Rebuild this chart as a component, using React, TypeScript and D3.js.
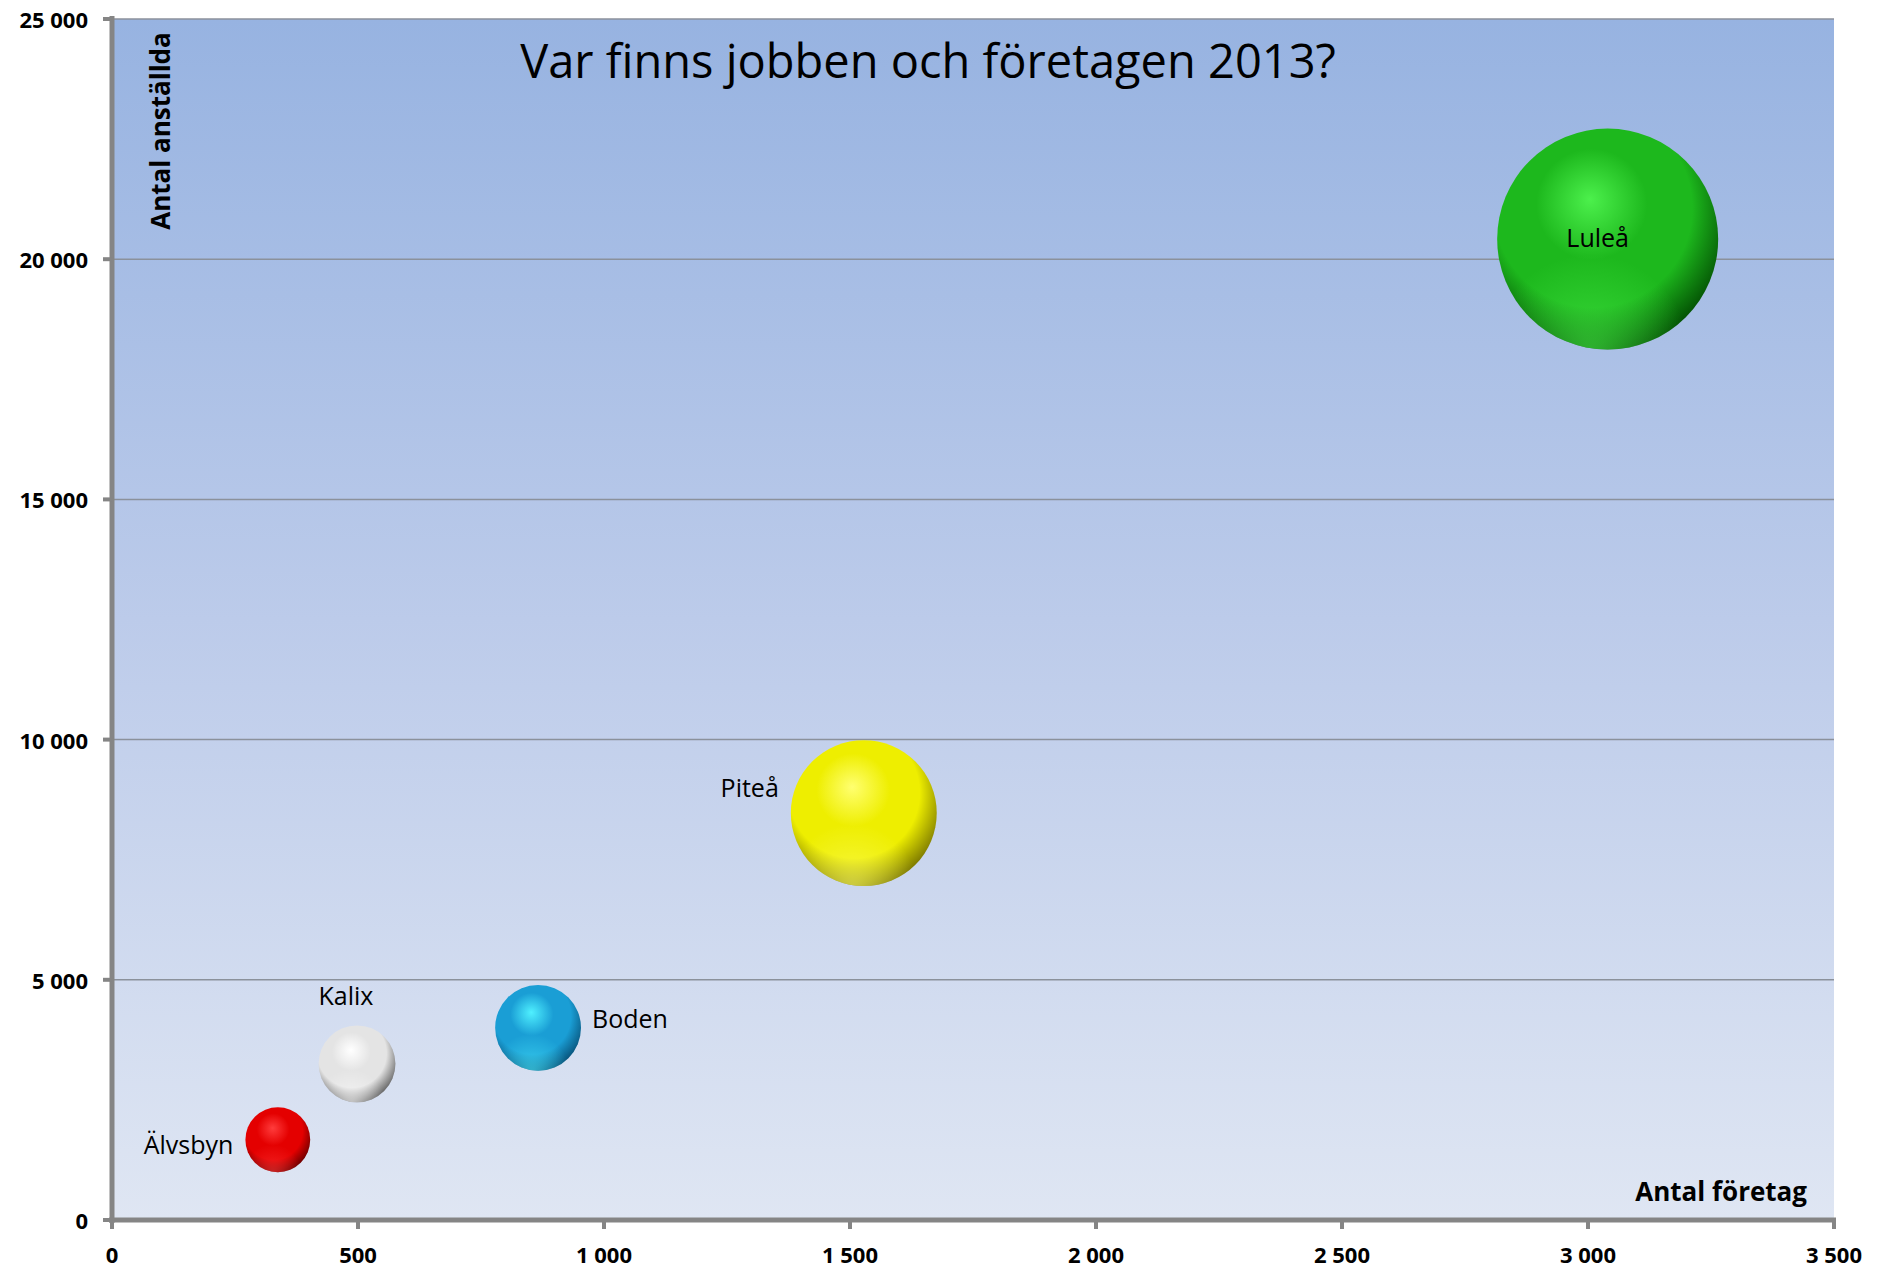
import * as d3 from "d3";

const kommuner = ["Luleå", "Piteå", "Boden", "Kalix", "Älvsbyn"];
const antalForetag = [3040, 1528, 866, 498, 337];
const antalAnstallda = [20420, 8470, 4000, 3250, 1670];
const bubbelStorlek = [100, 43.6, 15.1, 12.1, 8.6];
const xTicks = [0, 500, 1000, 1500, 2000, 2500, 3000, 3500];
const yTicks = [0, 5000, 10000, 15000, 20000, 25000];

// sphere colours: highlight, base, dark rim
const farger = [
  ["#4cf04c", "#1db81d", "#004400"],
  ["#ffff70", "#eeee00", "#6e6a00"],
  ["#4ff0ff", "#1a9ed5", "#064a70"],
  ["#ffffff", "#e4e4e4", "#555555"],
  ["#ff3c3c", "#e40000", "#5e0000"],
];
const etikettLage = ["center", "left", "right", "above", "left"];

const W = 1883;
const H = 1268;
const fmt = (v: number) => d3.format(",")(v).replace(/,/g, " ");

export default function App() {
  const x = d3.scaleLinear().domain([0, 3500]).range([112, 1834]);
  const y = d3.scaleLinear().domain([0, 25000]).range([1220, 19]);
  const r = d3.scaleSqrt().domain([0, 100]).range([0, 110.5]);
  const font = "'Open Sans', 'Noto Sans', sans-serif";

  return (
    <svg
      width={W}
      height={H}
      style={{ position: "absolute", left: 0, top: 0, background: "#fff" }}
      fontFamily={font}
    >
      <defs>
        <linearGradient id="bg" x1="0" y1="0" x2="0" y2="1">
          <stop offset="0%" stopColor="#97b3e1" />
          <stop offset="50%" stopColor="#bccbea" />
          <stop offset="100%" stopColor="#dfe6f3" />
        </linearGradient>
        {farger.map((c, i) => (
          <g key={i}>
            <radialGradient id={`sf${i}`} cx="0.44" cy="0.38" r="0.66" fx="0.42" fy="0.32">
              <stop offset="0%" stopColor={c[0]} />
              <stop offset="38%" stopColor={c[1]} />
              <stop offset="68%" stopColor={c[1]} />
              <stop offset="100%" stopColor={c[2]} />
            </radialGradient>
            <radialGradient id={`rf${i}`} cx="0.42" cy="1.02" r="0.45">
              <stop offset="0%" stopColor={c[0]} stopOpacity="0.6" />
              <stop offset="100%" stopColor={c[0]} stopOpacity="0" />
            </radialGradient>
          </g>
        ))}
      </defs>

      <rect
        x={x(0)}
        y={y(25000)}
        width={x(3500) - x(0)}
        height={y(0) - y(25000)}
        fill="url(#bg)"
      />

      {yTicks
        .filter((t) => t > 0)
        .map((t) => (
          <line key={t} x1={x(0)} x2={x(3500)} y1={y(t)} y2={y(t)} stroke="#8b919b" strokeWidth={1.5} />
        ))}

      <text x={928} y={60} textAnchor="middle" dominantBaseline="central" fontSize={47} fill="#000">
        Var finns jobben och företagen 2013?
      </text>

      <text
        transform={`translate(160,131) rotate(-90)`}
        textAnchor="middle"
        dominantBaseline="central"
        fontSize={26}
        fontWeight="bold"
        fill="#000"
      >
        Antal anställda
      </text>
      <text x={1807} y={1191} textAnchor="end" dominantBaseline="central" fontSize={26} fontWeight="bold" fill="#000">
        Antal företag
      </text>

      {kommuner.map((k, i) => {
        const cx = x(antalForetag[i]);
        const cy = y(antalAnstallda[i]);
        const rr = r(bubbelStorlek[i]);
        return (
          <g key={k}>
            <circle cx={cx} cy={cy} r={rr} fill={`url(#sf${i})`} />
            <circle cx={cx} cy={cy} r={rr} fill={`url(#rf${i})`} />
          </g>
        );
      })}

      {kommuner.map((k, i) => {
        const cx = x(antalForetag[i]);
        const cy = y(antalAnstallda[i]);
        const rr = r(bubbelStorlek[i]);
        const lage = etikettLage[i];
        let tx = cx;
        let ty = cy;
        let anchor = "middle";
        if (lage === "center") {
          tx = cx - 10;
          ty = cy - 2;
        } else if (lage === "left") {
          tx = cx - rr - 12;
          ty = k === "Piteå" ? cy - 26 : cy + 4;
          anchor = "end";
        } else if (lage === "right") {
          tx = cx + rr + 11;
          ty = cy - 10;
          anchor = "start";
        } else if (lage === "above") {
          tx = cx - 11;
          ty = cy - rr - 30;
        }
        return (
          <text key={k} x={tx} y={ty} textAnchor={anchor} dominantBaseline="central" fontSize={25} fill="#000">
            {k}
          </text>
        );
      })}

      {/* axes */}
      <line x1={x(0)} x2={x(0)} y1={y(25000) - 3} y2={y(0) + 3} stroke="#858585" strokeWidth={5} />
      <line x1={x(0) - 3} x2={x(3500) + 2} y1={y(0)} y2={y(0)} stroke="#858585" strokeWidth={5} />
      {yTicks.map((t) => (
        <g key={t}>
          <line x1={x(0) - 9} x2={x(0)} y1={y(t)} y2={y(t)} stroke="#858585" strokeWidth={4} />
          <text x={88} y={y(t)} textAnchor="end" dominantBaseline="central" fontSize={22} fontWeight="bold" fill="#000">
            {fmt(t)}
          </text>
        </g>
      ))}
      {xTicks.map((t) => (
        <g key={t}>
          <line x1={x(t)} x2={x(t)} y1={y(0)} y2={y(0) + 9} stroke="#858585" strokeWidth={4} />
          <text x={x(t)} y={1254} textAnchor="middle" dominantBaseline="central" fontSize={22} fontWeight="bold" fill="#000">
            {fmt(t)}
          </text>
        </g>
      ))}
    </svg>
  );
}
